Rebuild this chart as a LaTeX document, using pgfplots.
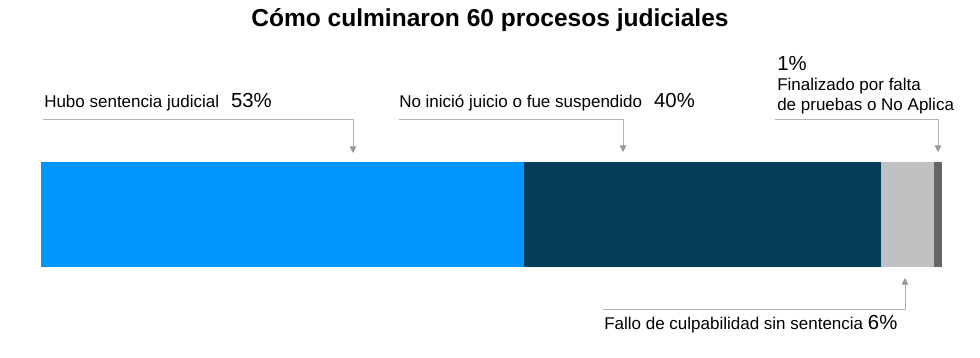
\documentclass[border=0pt]{standalone}
\usepackage{pgfplots}
\pgfplotsset{compat=1.18}
\usepackage{fontspec}
\setmainfont{Liberation Sans}
\usetikzlibrary{arrows.meta}
\definecolor{cblue}{HTML}{0096FF}
\definecolor{cdark}{HTML}{033D57}
\definecolor{clight}{HTML}{BFC1C3}
\definecolor{cgray}{HTML}{666666}
\definecolor{cline}{HTML}{B4B4B4}
\definecolor{carrow}{HTML}{999999}
\newcommand{\lab}{\fontsize{12.75}{15}\selectfont}
\newcommand{\pct}{\fontsize{15.25}{18}\selectfont}
\begin{document}
\begin{tikzpicture}
\useasboundingbox (0,0) rectangle (735pt,267.75pt);
\begin{axis}[
  at={(30.75pt,67.5pt)}, anchor=south west,
  scale only axis, width=675.75pt, height=78.75pt,
  xbar stacked, bar width=78.75pt,
  xmin=0, xmax=100, ymin=-0.5, ymax=0.5,
  hide axis, clip=false,
]
\addplot[fill=cblue, draw=none] coordinates {(53.6,0)};
\addplot[fill=cdark, draw=none] coordinates {(39.6,0)};
\addplot[fill=clight, draw=none] coordinates {(5.9,0)};
\addplot[fill=cgray, draw=none] coordinates {(0.9,0)};
\end{axis}
\begin{scope}[x=0.75pt,y=0.75pt]
% title
\node[anchor=base, inner sep=0pt, font=\bfseries\fontsize{18.4}{21}\selectfont] at (490,330) {Cómo culminaron 60 procesos judiciales};
% annotation 1
\node[anchor=base west, inner sep=0pt] at (44,249) {\lab Hubo sentencia judicial\hspace{9pt}\pct 53\%};
\draw[cline, line width=0.75pt, -{Triangle[width=5pt,length=5pt,color=carrow]}] (43,237) -- (353,237) -- (353,204);
% annotation 2
\node[anchor=base west, inner sep=0pt] at (399,249) {\lab No inició juicio o fue suspendido\hspace{9pt}\pct 40\%};
\draw[cline, line width=0.75pt, -{Triangle[width=5pt,length=5pt,color=carrow]}] (399,237) -- (623,237) -- (623,205);
% annotation 3
\node[anchor=base west, inner sep=0pt] at (777,286) {\pct 1\%};
\node[anchor=base west, inner sep=0pt] at (777,266) {\lab Finalizado por falta};
\node[anchor=base west, inner sep=0pt] at (777,246) {\lab de pruebas o No Aplica};
\draw[cline, line width=0.75pt, -{Triangle[width=5pt,length=5pt,color=carrow]}] (775,237) -- (938,237) -- (938,205);
% annotation 4
\node[anchor=base west, inner sep=0pt] at (604,28) {\lab Fallo de culpabilidad sin sentencia \pct 6\%};
\draw[cline, line width=0.75pt, -{Triangle[width=5pt,length=5pt,color=carrow]}] (603,48) -- (905,48) -- (905,79);
\end{scope}
\end{tikzpicture}
\end{document}
